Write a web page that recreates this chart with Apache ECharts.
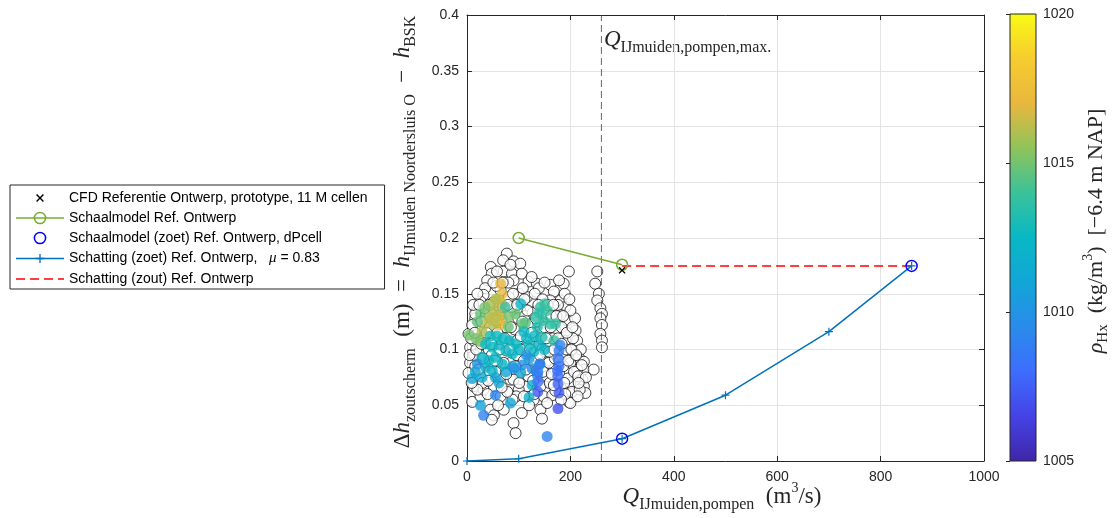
<!DOCTYPE html>
<html><head><meta charset="utf-8">
<script src="https://cdn.jsdelivr.net/npm/echarts@6/dist/echarts.min.js"></script>
<style>html,body{margin:0;padding:0;background:#fff}#c{width:1117px;height:518px}</style>
</head><body><div id="c"></div><script>
// ---------- data ----------
const xRange = [0, 1000], xInterval = 200;
const yRange = [0, 0.4], yInterval = 0.05;
const rhoRange = [1005, 1020], rhoInterval = 5;
const qMax = 260;
const cfdPoint = [[300, 0.171]];
const schaalQ = [100, 300], schaalDh = [0.2, 0.176];
const zoetQ = [300, 860], zoetDh = [0.02, 0.175];
const schatZoetQ = [0, 100, 300, 500, 700, 860], schatZoetDh = [0, 0.002, 0.02, 0.059, 0.116, 0.175];
const schatZoutQ = [300, 860], schatZoutDh = [0.175, 0.175];
const blackPts = [
[77,0.186],[90,0.179],[103,0.177],[46,0.174],[48,0.168],[71,0.170],[87,0.168],[106,0.168],[90,0.162],[39,0.162],[35,0.155],[32,0.149],[26,0.143],[19,0.135],[16,0.128],
[119,0.161],[135,0.159],[139,0.155],[161,0.158],[168,0.152],[187,0.159],[197,0.170],[181,0.144],[190,0.138],[194,0.126],[210,0.117],[213,0.108],[206,0.099],[216,0.093],[226,0.089],[226,0.082],[223,0.073],[226,0.067],[229,0.061],[245,0.082],
[252,0.170],[248,0.159],[255,0.150],[252,0.144],[258,0.137],[261,0.132],[258,0.128],[261,0.122],[258,0.114],[261,0.108],[261,0.102],
[6,0.088],[3,0.079],[13,0.067],[10,0.053],[26,0.058],[32,0.064],[45,0.046],[52,0.041],[48,0.037],[90,0.034],[94,0.025],[71,0.046],[65,0.058],[116,0.067],[142,0.067],[148,0.058],[142,0.046],[145,0.038],[165,0.059],[181,0.067],[197,0.053],[200,0.070],[213,0.082],[168,0.082],[103,0.079],[84,0.073],[65,0.076],[52,0.067],[26,0.076],[6,0.102],[3,0.114],[13,0.108],[23,0.117],[10,0.122],[16,0.132],[77,0.099],[97,0.108],[116,0.102],[135,0.093],[155,0.090],[110,0.117],[123,0.123],[142,0.117],[161,0.105],[174,0.099],[65,0.117],[52,0.111],[42,0.099],[84,0.088],[90,0.073],[100,0.064],[129,0.055],[155,0.052],[106,0.043],[126,0.143],[116,0.147],[100,0.150],[81,0.147],[65,0.153],[58,0.140],[103,0.135],[155,0.132],[161,0.144],[181,0.131],[171,0.117],[190,0.108],[184,0.096],[200,0.088],[155,0.076],[119,0.076],[71,0.088],[58,0.089],[16,0.085],[23,0.096],[35,0.089],
[20,0.150],[28,0.125],[36,0.106],[44,0.120],[50,0.142],[57,0.157],[62,0.130],[68,0.105],[75,0.120],[80,0.160],[86,0.138],[92,0.118],[96,0.095],[99,0.128],[108,0.155],[112,0.130],[118,0.110],[121,0.088],[127,0.133],[131,0.150],[137,0.125],[140,0.105],[146,0.145],[150,0.120],[152,0.098],[158,0.088],[163,0.130],[166,0.110],[170,0.092],[176,0.140],[178,0.078],[183,0.120],[186,0.085],[192,0.100],[195,0.074],[203,0.062],[207,0.080],[209,0.128],[171,0.063],[160,0.070],[136,0.080],[128,0.090],[110,0.090],[95,0.058],[88,0.055],[78,0.062],[60,0.050],[40,0.060],[30,0.070],[20,0.064],[14,0.095],[8,0.110],[12,0.140],[34,0.137],[70,0.138],[56,0.126],[88,0.100],[104,0.112],[132,0.112],[145,0.100],[168,0.068],[215,0.076],[220,0.100],[205,0.110],[200,0.135],[189,0.150],[178,0.162],[150,0.160],[125,0.165],[58,0.170],[70,0.180],[84,0.176],[230,0.075],[218,0.064],[222,0.086],[216,0.070],[130,0.060],[120,0.050],[110,0.058],[55,0.080],[48,0.095],[44,0.080],[200,0.052],[190,0.060],[182,0.055],
[5,0.095],[9,0.070],[15,0.115],[18,0.100],[22,0.082],[24,0.140],[28,0.105],[31,0.092],[38,0.115],[41,0.072],[43,0.140],[47,0.105],[51,0.160],[54,0.090],[59,0.115],[63,0.100],[67,0.066],[69,0.160],[73,0.110],[76,0.078],[79,0.140],[82,0.100],[85,0.120],[89,0.150],[93,0.085],[97,0.140],[101,0.070],[104,0.100],[107,0.125],[111,0.145],[114,0.082],[117,0.135],[122,0.100],[125,0.115],[128,0.072],[133,0.128],[138,0.140],[141,0.095],[144,0.110],[147,0.080],[153,0.110],[156,0.140],[159,0.098],[162,0.120],[164,0.078],[167,0.140],[169,0.100],[173,0.130],[176,0.110],[179,0.090],[183,0.105],[186,0.130],[188,0.070],[193,0.115],[196,0.090],[198,0.145],[202,0.100],[204,0.120],[211,0.095],[214,0.058]
];
const colorPts = [
[65,0.159,1017.0],[68,0.150,1016.9],[67,0.141,1016.7],[65,0.132,1016.6],[68,0.127,1016.8],[62,0.122,1017.3],[60,0.145,1016.6],
[46,0.140,1016.0],[52,0.135,1016.1],[42,0.129,1015.8],[36,0.123,1016.2],[29,0.116,1016.0],[52,0.123,1016.0],[55,0.145,1016.0],[58,0.130,1016.2],[48,0.128,1016.3],
[26,0.132,1014.8],[4,0.113,1015.0],[17,0.110,1015.0],[26,0.107,1015.3],[107,0.123,1014.8],[113,0.124,1014.6],[94,0.132,1014.8],[81,0.130,1015.0],[35,0.138,1015.0],[20,0.125,1014.7],[80,0.120,1014.8],
[142,0.138,1013.7],[155,0.135,1013.8],[133,0.129,1013.5],[161,0.123,1013.8],[148,0.126,1013.6],[136,0.120,1013.2],[145,0.111,1013.3],[168,0.108,1013.8],[150,0.141,1013.9],[140,0.133,1013.5],[74,0.138,1013.8],[171,0.123,1013.7],
[36,0.105,1012.5],[49,0.102,1012.6],[62,0.104,1012.5],[75,0.099,1012.4],[29,0.093,1012.2],[42,0.090,1012.3],[55,0.093,1012.5],[68,0.087,1012.3],[88,0.096,1012.4],[94,0.105,1012.6],[36,0.084,1012.1],[49,0.081,1012.2],[129,0.098,1012.5],[120,0.104,1012.6],[110,0.116,1012.5],[104,0.141,1012.2],[126,0.068,1012.0],[120,0.057,1011.9],[58,0.112,1012.7],[45,0.112,1012.8],[70,0.110,1012.6],[82,0.108,1012.4],[100,0.100,1012.3],[130,0.112,1012.5],[140,0.104,1012.4],[150,0.100,1012.2],[115,0.110,1012.4],
[29,0.075,1011.3],[10,0.074,1011.0],[104,0.079,1011.2],[136,0.077,1010.0],[55,0.075,1011.0],[75,0.080,1011.2],[88,0.085,1011.0],[26,0.050,1010.9],[84,0.052,1011.0],[16,0.080,1011.4],[62,0.070,1011.2],
[107,0.086,1009.8],[120,0.092,1010.3],[126,0.083,1009.8],[91,0.083,1009.9],[20,0.087,1010.0],[55,0.059,1009.2],[32,0.041,1009.0],[155,0.022,1009.2],[141,0.087,1009.2],[115,0.095,1010.2],
[178,0.099,1008.9],[176,0.092,1008.6],[178,0.085,1008.3],[176,0.076,1008.0],[176,0.069,1007.7],[178,0.061,1007.3],[176,0.047,1007.0],[180,0.104,1009.2],[175,0.081,1008.2],
[137,0.080,1008.6],[137,0.071,1008.0],[137,0.062,1007.2],[141,0.087,1009.0]
];
const names = {
  cfd: 'CFD Referentie Ontwerp, prototype, 11 M cellen',
  schaal: 'Schaalmodel Ref. Ontwerp',
  schaalZoet: 'Schaalmodel (zoet) Ref. Ontwerp, dPcell',
  schatZoet: 'Schatting (zoet) Ref. Ontwerp',
  schatZout: 'Schatting (zout) Ref. Ontwerp'
};
const muText = '0.83';
// parula-like colormap, evenly spaced from rho min to rho max
const parula = ['#3E26A8','#4542E5','#3D6DFD','#2A8BEA','#12A5D8','#08B8C4','#3BC29A','#90C35A','#E9B73E','#F6CC2F','#F9FB15'];

// ---------- helpers ----------
const zip = (a, b) => a.map((v, i) => [v, b[i]]);
const SERIF = 'Liberation Serif', SANS = 'Liberation Sans', AX = '#262626';
const xMark = 'path://M0,0L0.01,0Z M10,10L9.99,10Z M1.5,2.42L2.42,1.5L5,4.08L7.58,1.5L8.5,2.42L5.92,5L8.5,7.58L7.58,8.5L5,5.92L2.42,8.5L1.5,7.58L4.08,5Z';
const plusMark = 'path://M0,0L0.01,0Z M10,10L9.99,10Z M4.4,1H5.6V4.4H9V5.6H5.6V9H4.4V5.6H1V4.4H4.4Z';
const mathRich = (main, sub, sup) => ({
  m: {fontFamily: SERIF, fontSize: main, lineHeight: main + 8, fill: AX},
  i: {fontFamily: SERIF, fontStyle: 'italic', fontSize: main, lineHeight: main + 8, fill: AX},
  s: {fontFamily: SERIF, fontSize: sub, lineHeight: sub, verticalAlign: 'bottom', fill: AX},
  p: {fontFamily: SERIF, fontSize: sup, lineHeight: sup + 4, verticalAlign: 'top', fill: AX}
});
const plain = v => String(v);

const chart = echarts.init(document.getElementById('c'), null, {renderer: 'canvas'});
const axCommon = {
  axisLine: {show: true, onZero: false, lineStyle: {color: AX, width: 1}},
  axisTick: {show: true, inside: true, length: 5, lineStyle: {color: AX, width: 1}},
};
const option = {
  animation: false,
  backgroundColor: '#fff',
  grid: [
    {left: 467, top: 15, width: 517, height: 446},
    {left: 1010, top: 14, width: 26, height: 447}
  ],
  xAxis: [
    Object.assign({gridIndex: 0, type: 'value', min: xRange[0], max: xRange[1], interval: xInterval, position: 'bottom',
      axisLabel: {color: AX, fontSize: 14, fontFamily: SANS, margin: 9, formatter: plain},
      splitLine: {show: true, lineStyle: {color: '#e4e4e4', width: 1}}}, axCommon),
    Object.assign({gridIndex: 0, type: 'value', min: xRange[0], max: xRange[1], interval: xInterval, position: 'top',
      axisLabel: {show: false}, splitLine: {show: false}}, axCommon),
    {gridIndex: 1, type: 'value', min: 0, max: 1, show: false}
  ],
  yAxis: [
    Object.assign({gridIndex: 0, type: 'value', min: yRange[0], max: yRange[1], interval: yInterval, position: 'left',
      axisLabel: {color: AX, fontSize: 14, fontFamily: SANS, margin: 8},
      splitLine: {show: true, lineStyle: {color: '#e4e4e4', width: 1}}}, axCommon),
    Object.assign({gridIndex: 0, type: 'value', min: yRange[0], max: yRange[1], interval: yInterval, position: 'right',
      axisLabel: {show: false}, splitLine: {show: false}}, axCommon),
    {gridIndex: 1, type: 'value', min: rhoRange[0], max: rhoRange[1], interval: rhoInterval, position: 'right',
      axisLine: {show: false}, axisTick: {show: true, inside: true, length: 4, lineStyle: {color: AX}},
      axisLabel: {color: AX, fontSize: 14, fontFamily: SANS, margin: 7, formatter: plain}, splitLine: {show: false}}
  ],
  visualMap: [{
    type: 'continuous', show: false, min: rhoRange[0], max: rhoRange[1], dimension: 2, seriesIndex: 2,
    inRange: {color: parula}
  }],
  legend: {
    data: [
      {name: names.cfd, itemStyle: {borderWidth: 0}},
      {name: names.schaal, itemStyle: {borderWidth: 1.5}, lineStyle: {width: 1.5}},
      {name: names.schaalZoet, itemStyle: {borderWidth: 1.5}},
      {name: names.schatZoet, itemStyle: {borderWidth: 0}, lineStyle: {width: 1.5}},
      {name: names.schatZout, itemStyle: {opacity: 0}, lineStyle: {width: 1.5}}
    ],
    orient: 'vertical', left: 10, top: 185, itemWidth: 48, itemHeight: 14, itemGap: 6,
    padding: [6, 17, 3, 5], backgroundColor: '#fff', borderColor: AX, borderWidth: 1, borderRadius: 0,
    selectedMode: false,
    textStyle: {fontFamily: SANS, fontSize: 14, lineHeight: 14, color: '#000',
      rich: {mu: {fontFamily: SERIF, fontStyle: 'italic', fontSize: 15, lineHeight: 14, color: '#000'}}},
    formatter: n => n === names.schatZoet ? n + ',   {mu|μ} = ' + muText : n
  },
  series: [
    {type: 'line', xAxisIndex: 0, yAxisIndex: 0, silent: true, symbol: 'none',
      data: [[qMax, yRange[0]], [qMax, yRange[1]]],
      lineStyle: {color: '#404040', width: 0.8, type: [7, 4]}},
    {type: 'scatter', xAxisIndex: 0, yAxisIndex: 0, silent: true, symbol: 'circle', symbolSize: 11,
      data: blackPts, itemStyle: {color: '#fff', borderColor: '#111', borderWidth: 1}},
    {type: 'scatter', xAxisIndex: 0, yAxisIndex: 0, silent: true, symbol: 'circle', symbolSize: 11,
      data: colorPts, itemStyle: {borderWidth: 0}},
    {type: 'line', name: names.schaal, data: zip(schaalQ, schaalDh), symbol: 'circle', symbolSize: 11,
      itemStyle: {color: 'rgba(0,0,0,0)', borderColor: '#77AC30', borderWidth: 1.5},
      lineStyle: {color: '#77AC30', width: 1.5}},
    {type: 'line', name: names.schatZout, data: zip(schatZoutQ, schatZoutDh), symbol: 'none',
      itemStyle: {color: '#FF0000'}, lineStyle: {color: '#FF0000', width: 1.5, type: [9, 5]}},
    {type: 'line', name: names.schatZoet, data: zip(schatZoetQ, schatZoetDh), symbol: plusMark, symbolSize: 10,
      itemStyle: {color: '#0072BD', borderWidth: 0}, lineStyle: {color: '#0072BD', width: 1.5}},
    {type: 'line', name: names.schaalZoet, data: zip(zoetQ, zoetDh), symbol: 'circle', symbolSize: 11,
      itemStyle: {color: 'rgba(0,0,0,0)', borderColor: '#0000FF', borderWidth: 1.5},
      lineStyle: {color: '#0000FF', opacity: 0}},
    {type: 'line', name: names.cfd, data: cfdPoint, symbol: xMark, symbolSize: 10,
      itemStyle: {color: '#000', borderWidth: 0}, lineStyle: {color: '#000', opacity: 0}},
    {type: 'custom', xAxisIndex: 2, yAxisIndex: 2, silent: true,
      data: [[0, 1, rhoRange[0], rhoRange[1]]],
      renderItem: (params, api) => {
        const p1 = api.coord([api.value(0), api.value(3)]);
        const p0 = api.coord([api.value(1), api.value(2)]);
        const stops = parula.map((c, i) => ({offset: i / (parula.length - 1), color: c}));
        return {type: 'rect', shape: {x: p1[0], y: p1[1], width: p0[0] - p1[0], height: p0[1] - p1[1]},
          style: {fill: new echarts.graphic.LinearGradient(0, 1, 0, 0, stops), stroke: AX, lineWidth: 1}};
      }}
  ],
  graphic: [
    {type: 'text', x: 403, y: 232, rotation: Math.PI / 2, silent: true,
      style: {text: '{m|Δ}{i|h}{s|zoutscherm}{m|  (m)  =  }{i|h}{s|IJmuiden Noordersluis O}{m|  −  }{i|h}{s|BSK}',
        rich: mathRich(23, 16, 14), align: 'center', verticalAlign: 'middle'}},
    {type: 'text', x: 722, y: 497, silent: true,
      style: {text: '{i|Q}{s|IJmuiden,pompen}{m|  (m}{p|3}{m|/s)}',
        rich: mathRich(23, 16, 14), align: 'center', verticalAlign: 'middle'}},
    {type: 'text', x: 1096, y: 231, rotation: Math.PI / 2, silent: true,
      style: {text: '{i|ρ}{s|Hx}{m|  (kg/m}{p|3}{m|)  [−6.4 m NAP]}',
        rich: mathRich(22, 15, 14), align: 'center', verticalAlign: 'middle'}},
    {type: 'text', x: 604, y: 40, silent: true,
      style: {text: '{i|Q}{s|IJmuiden,pompen,max.}',
        rich: mathRich(23, 16, 14), align: 'left', verticalAlign: 'middle'}}
  ]
};
chart.setOption(option);
</script></body></html>
